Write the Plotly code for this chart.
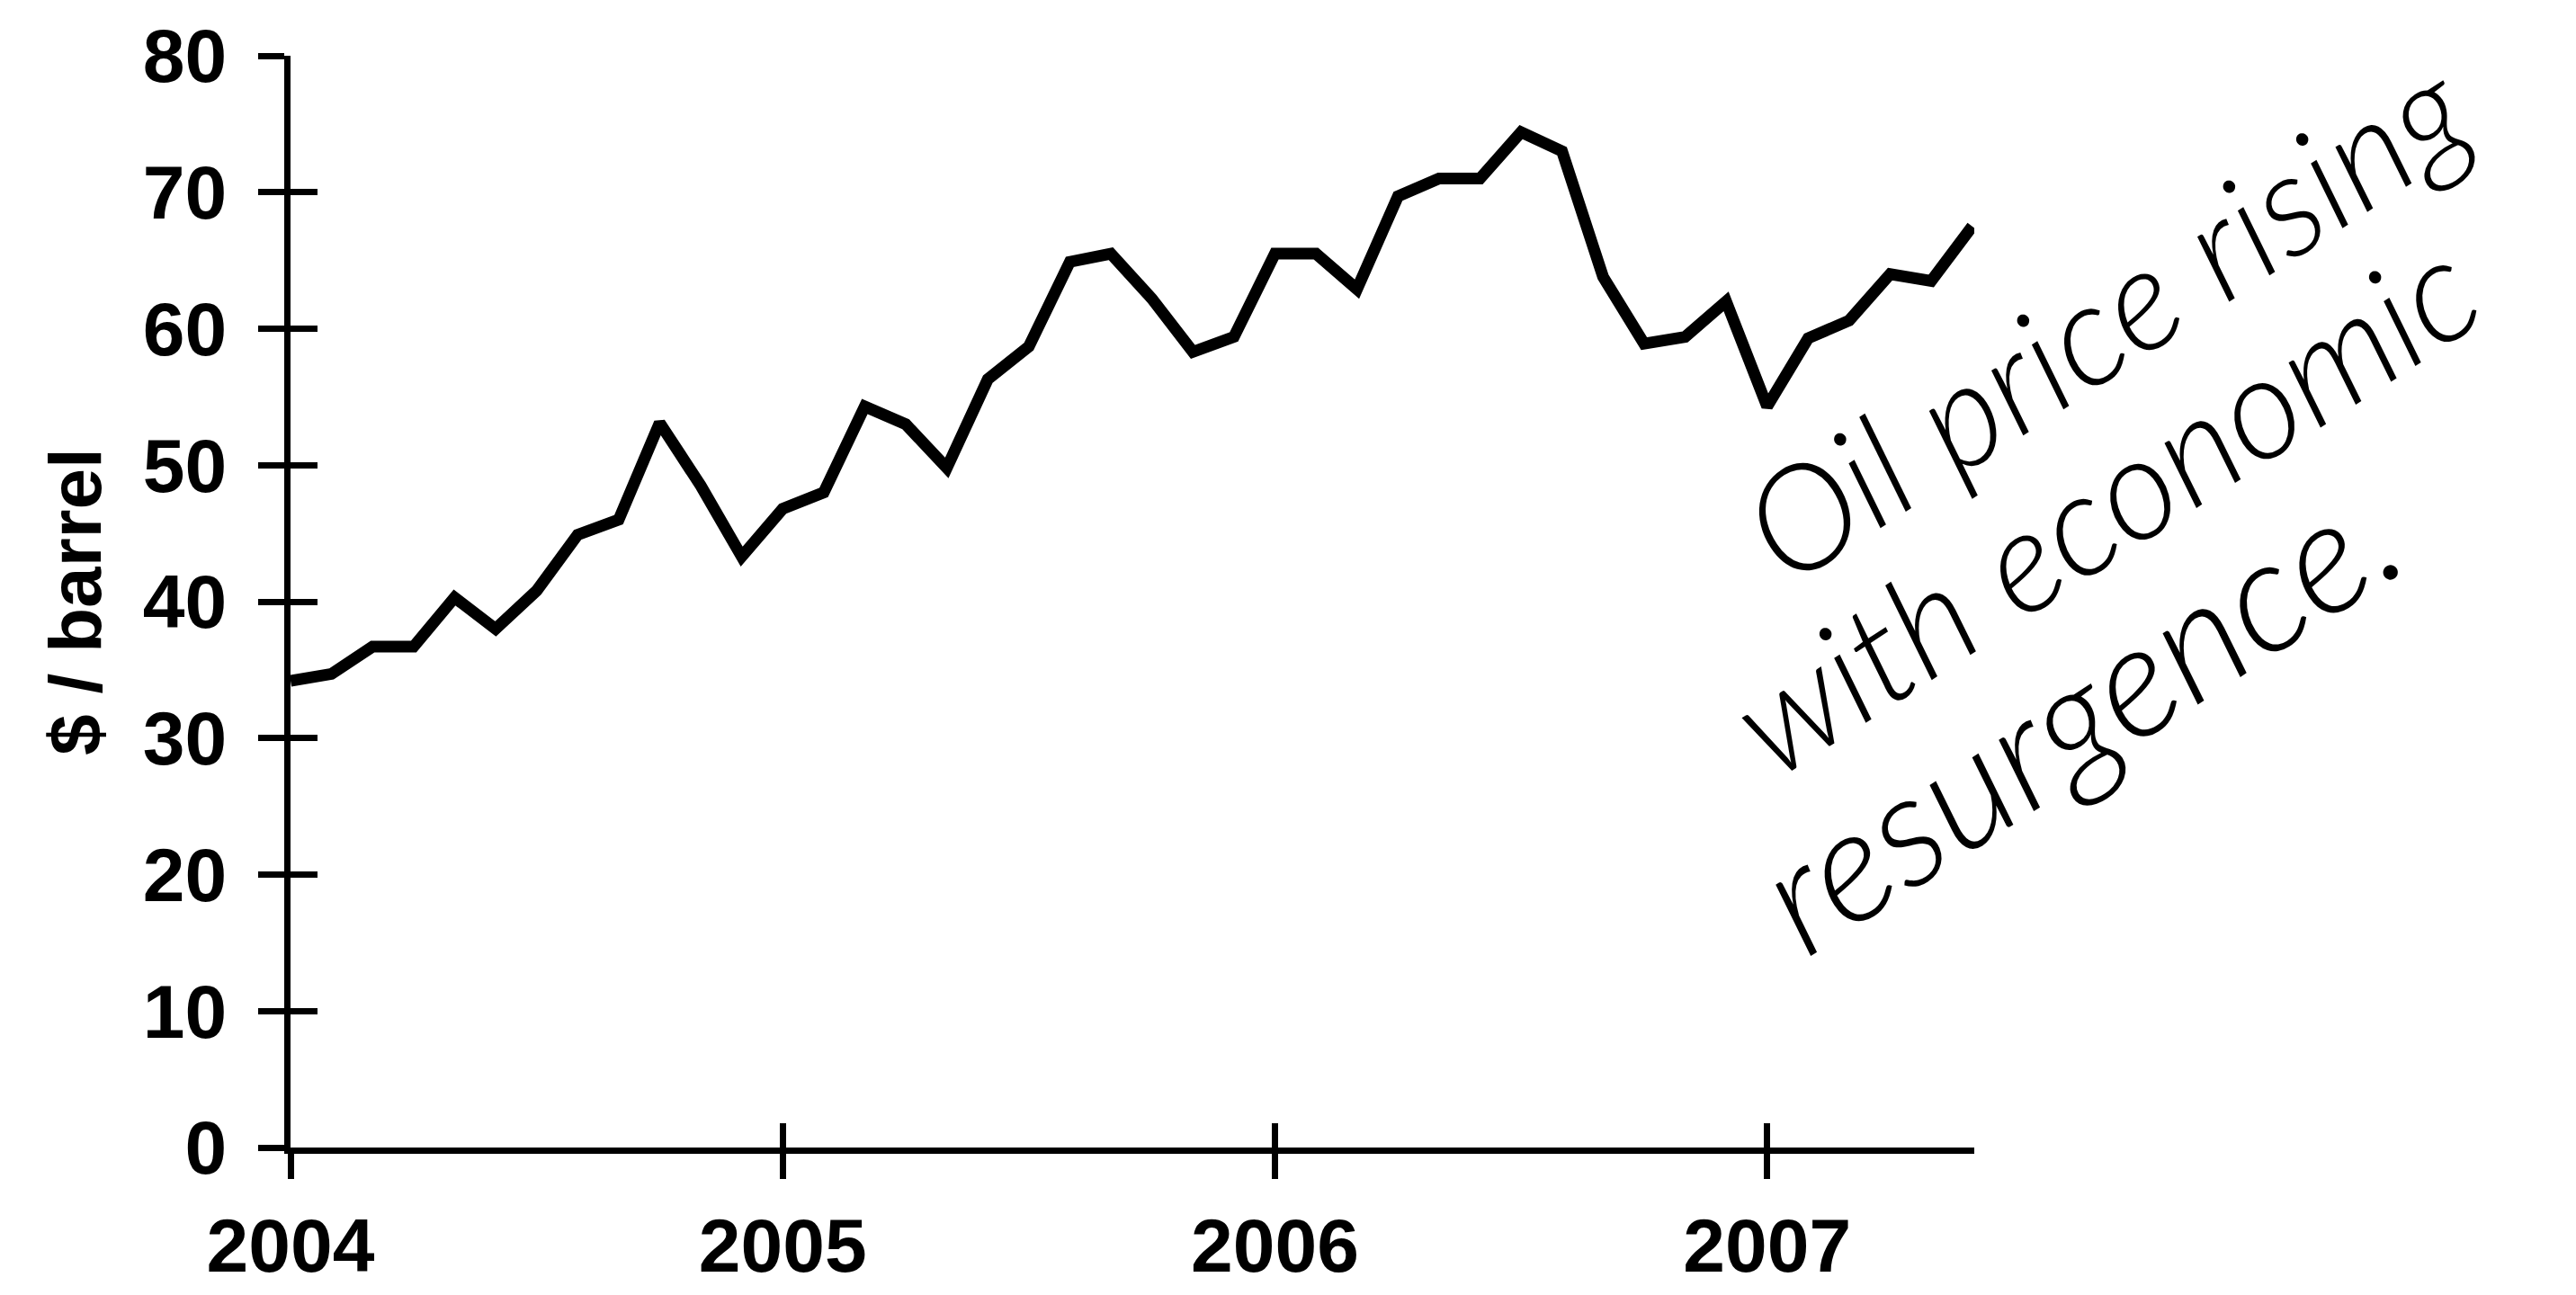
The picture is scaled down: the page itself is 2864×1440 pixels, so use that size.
import plotly.graph_objects as go

# Monthly oil price, Jan 2004 .. Jun 2007 (month index 0 = Jan 2004)
months = list(range(42))
prices = [
    34.2, 34.7, 36.7, 36.7, 40.3, 38.0, 40.8, 44.9, 46.0, 53.1, 48.5, 43.3,
    46.8, 48.0, 54.3, 53.0, 49.8, 56.3, 58.7, 64.9, 65.5, 62.2, 58.3, 59.4,
    65.5, 65.5, 62.9, 69.7, 71.0, 71.0, 74.4, 73.0, 63.8, 58.9, 59.4, 62.0,
    54.3, 59.3, 60.6, 64.0, 63.5, 67.5,
]
year_ticks = [0, 12, 24, 36]
year_labels = ["2004", "2005", "2006", "2007"]
y_ticks = [0, 10, 20, 30, 40, 50, 60, 70, 80]
y_title = "$ / barrel"
note_lines = ["Oil price rising", "with economic", "resurgence."]
note_pos = [(1.077, 0.761), (1.076, 0.591), (1.060, 0.400)]
note_sizes = [160, 160, 176]

# page body has an 8px margin, so the figure is sized to fit inside it
W, H = 2848, 1424
ML, MR, MT, MB = 315, 661, 54, 156
X_RANGE = [0, 41.05]
Y_RANGE = [0, 80]

label_font = dict(family="Liberation Sans, Arial, sans-serif", size=84, color="black", weight="bold")

fig = go.Figure()
fig.add_trace(go.Scatter(
    x=months, y=prices, mode="lines",
    line=dict(color="black", width=13), hoverinfo="skip", showlegend=False,
))
# invisible companion trace so the overlay axes (inner tick halves) are drawn
fig.add_trace(go.Scatter(
    x=months, y=prices, mode="lines", xaxis="x2", yaxis="y2",
    line=dict(color="rgba(0,0,0,0)", width=1), hoverinfo="skip", showlegend=False,
))

common_axis = dict(showgrid=False, zeroline=False, tickcolor="black", tickwidth=7, automargin=False)

fig.update_layout(
    width=W, height=H, autosize=False,
    margin=dict(l=ML, r=MR, t=MT, b=MB, pad=0, autoexpand=False),
    paper_bgcolor="white", plot_bgcolor="white",
    xaxis=dict(
        range=X_RANGE, tickmode="array", tickvals=year_ticks, ticktext=year_labels,
        ticks="outside", ticklen=28, showline=True, linewidth=7, linecolor="black",
        tickfont=label_font, ticklabelstandoff=2, **common_axis,
    ),
    yaxis=dict(
        range=Y_RANGE, tickmode="array", tickvals=y_ticks,
        ticks="outside", ticklen=29, showline=True, linewidth=7, linecolor="black",
        tickfont=label_font, ticklabelstandoff=18, **common_axis,
    ),
    xaxis2=dict(
        range=X_RANGE, overlaying="x", anchor="y2", side="bottom",
        tickmode="array", tickvals=year_ticks, ticks="inside", ticklen=27,
        showticklabels=False, showline=False, **common_axis,
    ),
    yaxis2=dict(
        range=Y_RANGE, overlaying="y", anchor="x2", side="left",
        tickmode="array", tickvals=y_ticks, ticks="inside", ticklen=30,
        showticklabels=False, showline=False, **common_axis,
    ),
)

fig.add_annotation(
    text=y_title, xref="paper", yref="paper", x=-0.1282, y=0.5,
    xanchor="center", yanchor="middle", textangle=-90, showarrow=False,
    font=dict(family="Liberation Sans, Arial, sans-serif", size=82, color="black", weight="bold"),
)

for line, (px, py), fs in zip(note_lines, note_pos, note_sizes):
    fig.add_annotation(
        text=line, xref="paper", yref="paper", x=px, y=py,
        xanchor="center", yanchor="middle", textangle=-33, showarrow=False,
        font=dict(family="Lato, sans-serif", size=fs, color="black", weight=300, style="italic"),
    )

fig.write_html("out.html")
